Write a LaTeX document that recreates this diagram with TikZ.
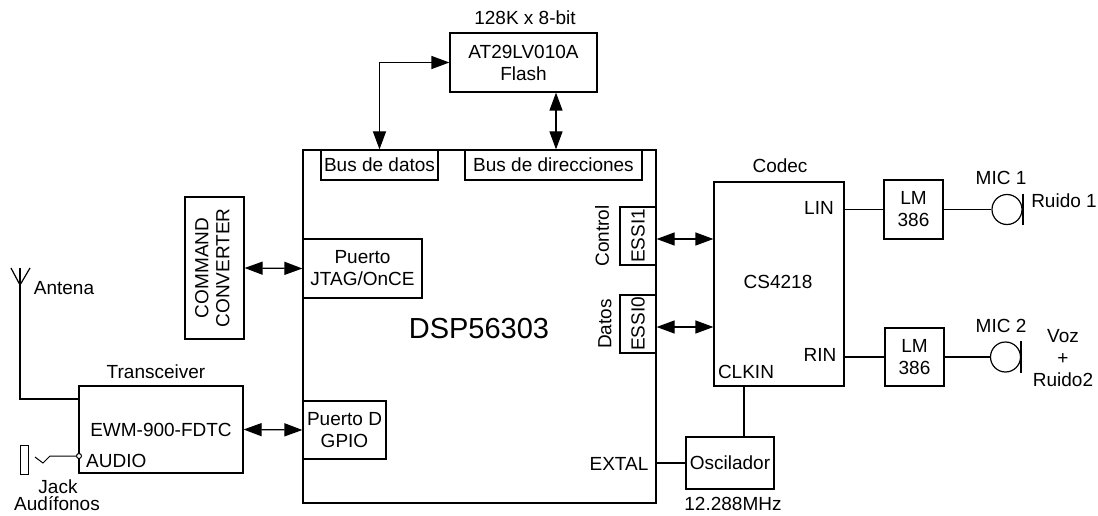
\documentclass[tikz,border=0pt]{standalone}
\usepackage{fontspec}
\setmainfont{Liberation Sans}
\usepackage{tikz}
\usetikzlibrary{arrows.meta}

\begin{document}
\begin{tikzpicture}[
  x=1pt,y=-1pt,
  font=\fontsize{19}{22}\selectfont,
  blockbox/.style={draw,line width=1.2pt,inner sep=0pt,align=center},
  txt/.style={inner sep=0pt,align=center},
  wire/.style={line width=1.2pt},
  bidir/.style={{Triangle[length=18pt,width=13pt]}-{Triangle[length=18pt,width=13pt]},line width=1.2pt},
  micbody/.style={draw,circle,line width=1.2pt,minimum size=30pt,inner sep=0pt},
  micbar/.style={line width=2pt}
]
  \useasboundingbox (0,0) rectangle (1098,516);

  % processor
  \node[blockbox,minimum width=353pt,minimum height=353pt] (dsp) at (479.5,326.5) {};
  \node[txt,font=\fontsize{29}{32}\selectfont] (dsplabel) at (479,329) {DSP56303};
  \node[blockbox,minimum width=117pt,minimum height=30pt] (busdatos) at (379.5,165) {Bus de datos};
  \node[blockbox,minimum width=177pt,minimum height=30pt] (busdir) at (553.5,165) {Bus de direcciones};
  \node[blockbox,minimum width=119pt,minimum height=59pt] (jtag) at (362.5,268.5) {Puerto\\JTAG/OnCE};
  \node[blockbox,minimum width=83pt,minimum height=58pt] (gpio) at (344.5,430) {Puerto D\\GPIO};
  \node[blockbox,minimum width=36pt,minimum height=58pt] (essi1) at (638,236) {\rotatebox{90}{ESSI1}};
  \node[blockbox,minimum width=36pt,minimum height=58pt] (essi0) at (638,324) {\rotatebox{90}{ESSI0}};
  \node[txt,rotate=90] (control) at (602,236) {Control};
  \node[txt,rotate=90] (datos) at (605,324) {Datos};
  \node[txt] (extal) at (619,464) {EXTAL};

  % memory
  \node[blockbox,minimum width=147pt,minimum height=59pt] (flash) at (523.5,62.5) {AT29LV010A\\Flash};
  \node[txt] (flashsize) at (525,18) {128K x 8-bit};

  % left side
  \node[blockbox,minimum width=59pt,minimum height=142pt] (cmd) at (214.5,268) {\rotatebox{90}{\begin{tabular}{@{}c@{}}COMMAND\\[-1pt]CONVERTER\end{tabular}}};
  \node[blockbox,minimum width=164pt,minimum height=87pt] (trans) at (161,429.5) {};
  \node[txt] (transname) at (161,430) {EWM-900-FDTC};
  \node[txt] (translabel) at (156,372) {Transceiver};
  \node[txt,anchor=west] (audio) at (86,461) {AUDIO};
  \node[draw,circle,fill=white,line width=1pt,minimum size=5pt,inner sep=0pt] (pin) at (79,456) {};
  \node[draw,line width=1pt,minimum width=8pt,minimum height=29pt,inner sep=0pt] (jack) at (24,459.5) {};
  \node[txt] (jacklabel) at (58,487) {Jack};
  \node[txt] (audif) at (57,504) {Audífonos};
  \node[txt] (antlabel) at (64,288) {Antena};
  \coordinate (antbase) at (20,285);
  \coordinate (anttop) at (20,268);
  \coordinate (antl) at (11,268);
  \coordinate (antr) at (30,268);
  \coordinate (jacka) at (50,456);
  \coordinate (jackb) at (43,463);
  \coordinate (jackc) at (35,457);

  % codec side
  \node[blockbox,minimum width=130pt,minimum height=204pt] (codec) at (779,284) {};
  \node[txt] (codecname) at (778,282) {CS4218};
  \node[txt] (codeclabel) at (780,166) {Codec};
  \node[txt] (lin) at (819,208) {LIN};
  \node[txt] (rin) at (820,355) {RIN};
  \node[txt] (clkin) at (746,372) {CLKIN};
  \node[blockbox,minimum width=88pt,minimum height=52pt] (osc) at (730,463) {Oscilador};
  \node[txt] (osclabel) at (733,504) {12.288MHz};
  \node[blockbox,minimum width=59pt,minimum height=59pt] (lm1) at (913.5,209.5) {LM\\386};
  \node[blockbox,minimum width=59pt,minimum height=58pt] (lm2) at (914.5,357) {LM\\386};
  \node[micbody] (mic1) at (1007,209.5) {};
  \node[micbody] (mic2) at (1005.5,357) {};
  \node[txt] (mic1label) at (1001,178) {MIC 1};
  \node[txt] (mic2label) at (1001,326) {MIC 2};
  \node[txt] (ruido1) at (1064,201) {Ruido 1};
  \node[txt] (ruido2) at (1063,358) {Voz\\+\\Ruido2};

  \draw[bidir] (flash.west) -| (busdatos.north);
  \draw[bidir] ([xshift=2.5pt]busdir.north) -- ([xshift=2.5pt]busdir.north |- flash.south);
  \draw[bidir] (cmd.east) -- (jtag.west);
  \draw[bidir] (trans.east) -- (gpio.west);
  \draw[bidir] ([yshift=-3pt]essi1.east) -- ([yshift=-3pt]essi1.east -| codec.west);
  \draw[bidir] ([yshift=-3pt]essi0.east) -- ([yshift=-3pt]essi0.east -| codec.west);

  \draw[wire] (antl) -- (antbase) -- (antr);
  \draw[wire] (anttop) -- (antbase) |- ([yshift=30.5pt]trans.west);
  \draw[wire,line width=1pt] (pin.west) -- (jacka) -- (jackb) -- (jackc);

  \draw[wire] (lm1.west -| codec.east) -- (lm1.west);
  \draw[wire] (lm2.west -| codec.east) -- (lm2.west);
  \draw[wire] (lm1.east) -- (mic1.west);
  \draw[wire] (lm2.east) -- (mic2.west);
  \draw[micbar] (mic1.north -| mic1.east) -- (mic1.south -| mic1.east);
  \draw[micbar] (mic2.north -| mic2.east) -- (mic2.south -| mic2.east);
  \draw[wire] ([xshift=14pt]osc.north) -- ([xshift=14pt]osc.north |- codec.south);
  \draw[wire] (osc.west) -- (osc.west -| dsp.east);
\end{tikzpicture}
\end{document}
